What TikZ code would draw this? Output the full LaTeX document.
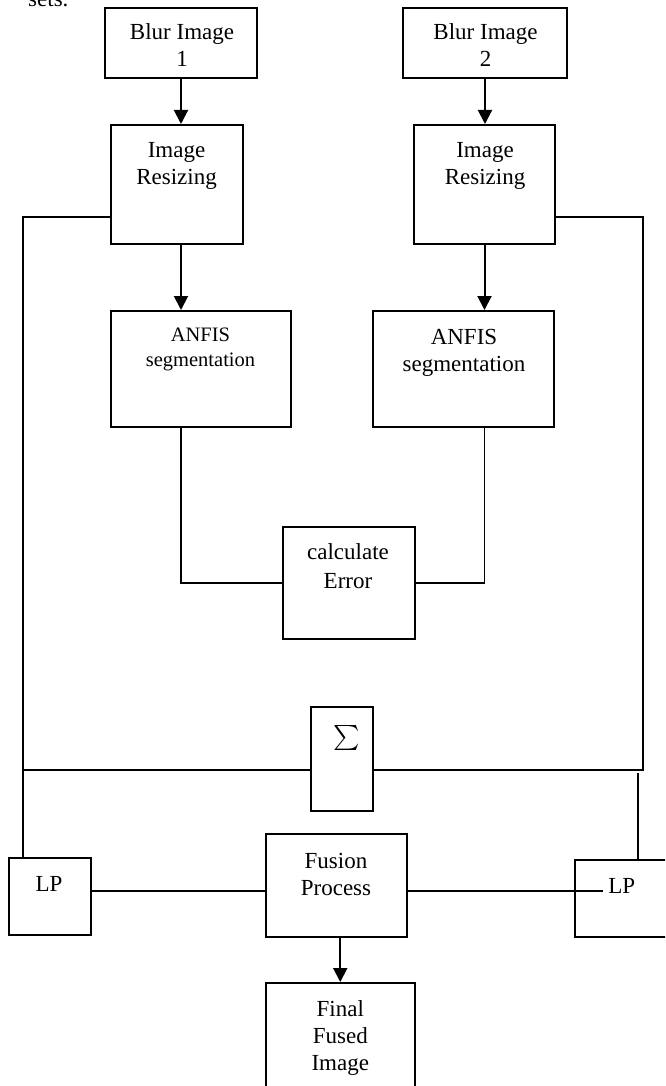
\documentclass[tikz,border=0pt]{standalone}
\usepackage{fontspec}
\setmainfont{Liberation Serif}
\usetikzlibrary{arrows.meta,calc}
\begin{document}
\begin{tikzpicture}[x=1pt,y=-1pt,
  box/.style={draw,line width=2pt,inner sep=0pt,rectangle},
  txt/.style={anchor=base,align=center,inner sep=0pt,font=\fontsize{23}{27}\selectfont},
  smalltxt/.style={anchor=base,align=center,inner sep=0pt,font=\fontsize{20.5}{25}\selectfont},
  arr/.style={line width=2pt,-{Triangle[width=14pt,length=14pt]}},
  conn/.style={line width=1.7pt}]
\useasboundingbox (0,0) rectangle (665,1086);
\clip (0,0) rectangle (665,1086);
\fill[white] (0,0) rectangle (665,1086);

% leading text cut at the top edge
\node[txt,anchor=base west] (sets) at (28,7) {sets.};

% boxes
\node[box,minimum width=152pt,minimum height=70pt] (b1) at (181,43) {};
\node[box,minimum width=164pt,minimum height=70pt] (b2) at (485,43) {};
\node[box,minimum width=132pt,minimum height=119pt] (r1) at (177,184.5) {};
\node[box,minimum width=141pt,minimum height=119pt] (r2) at (484.5,184.5) {};
\node[box,minimum width=180pt,minimum height=116pt] (a1) at (201,369) {};
\node[box,minimum width=181pt,minimum height=116pt] (a2) at (463.5,369) {};
\node[box,minimum width=131.5pt,minimum height=112pt] (calc) at (348.75,583) {};
\node[box,minimum width=62pt,minimum height=104pt] (sig) at (342,759) {};
\node[box,minimum width=82pt,minimum height=77pt] (lp1) at (49.5,896.5) {};
\node[box,minimum width=141pt,minimum height=103pt] (fus) at (336.5,885.5) {};
\node[box,minimum width=100pt,minimum height=77pt] (lp2) at (624.5,898.5) {};
\node[box,minimum width=148.5pt,minimum height=116pt] (fin) at (340.25,1041) {};

% texts (base anchor = baseline of the last line)
\node[txt] (tb1) at (182,66.7) {Blur Image\\1};
\node[txt] (tb2) at (485.5,66.7) {Blur Image\\2};
\node[txt] (tr1) at (176.5,185) {Image\\Resizing};
\node[txt] (tr2) at (485,185) {Image\\Resizing};
\node[smalltxt] (ta1) at (200.5,366) {ANFIS\\segmentation};
\node[txt] (ta2) at (464,371) {ANFIS\\segmentation};
\node[txt,font=\fontsize{23}{29}\selectfont] (tcalc) at (348,588) {calculate\\Error};
\node[anchor=center,inner sep=0pt,scale=2.5] (tsig) at (346.5,738) {$\sum$};
\node[txt] (tlp1) at (49,891.7) {LP};
\node[txt] (tfus) at (336,895) {Fusion\\Process};
\node[txt] (tlp2) at (621.7,893.3) {LP};
\node[txt] (tfin) at (340.3,1070.7) {Final\\Fused\\Image};

% arrows
\draw[arr] (b1.south) -- (b1.south |- r1.north);
\draw[arr] (b2.south) -- (b2.south |- r2.north);
\draw[arr] (r1.south -| b1.south) -- (a1.north -| b1.south);
\draw[arr] (r2.south) -- (r2.south |- a2.north);
\draw[arr] (fin.north |- fus.south) -- (fin.north);

% connectors
\coordinate (lt) at (23.3,216.7);
\coordinate (rt) at (643,216.7);
\coordinate (hz) at (0,770);
\coordinate (rv) at (637.7,772.7);
\coordinate (hl) at (0,891);
\coordinate (lpend) at (602.7,891);

\draw[conn] (a1.south -| b1.south) |- (calc.west);
\draw[conn] (a2.south -| r2.south) |- (calc.east);
\draw[conn] (lt -| r1.west) -- (lt) -- (lt |- lp1.north);
\draw[conn] (rt -| r2.east) -- (rt) -- (rt |- hz) -- (sig.east |- hz);
\draw[conn] (lt |- hz) -- (sig.west |- hz);
\draw[conn] (rv) -- (rv |- lp2.north);
\draw[conn] (lp1.east |- hl) -- (fus.west |- hl);
\draw[conn] (fus.east |- hl) -- (lpend);
\end{tikzpicture}
\end{document}
